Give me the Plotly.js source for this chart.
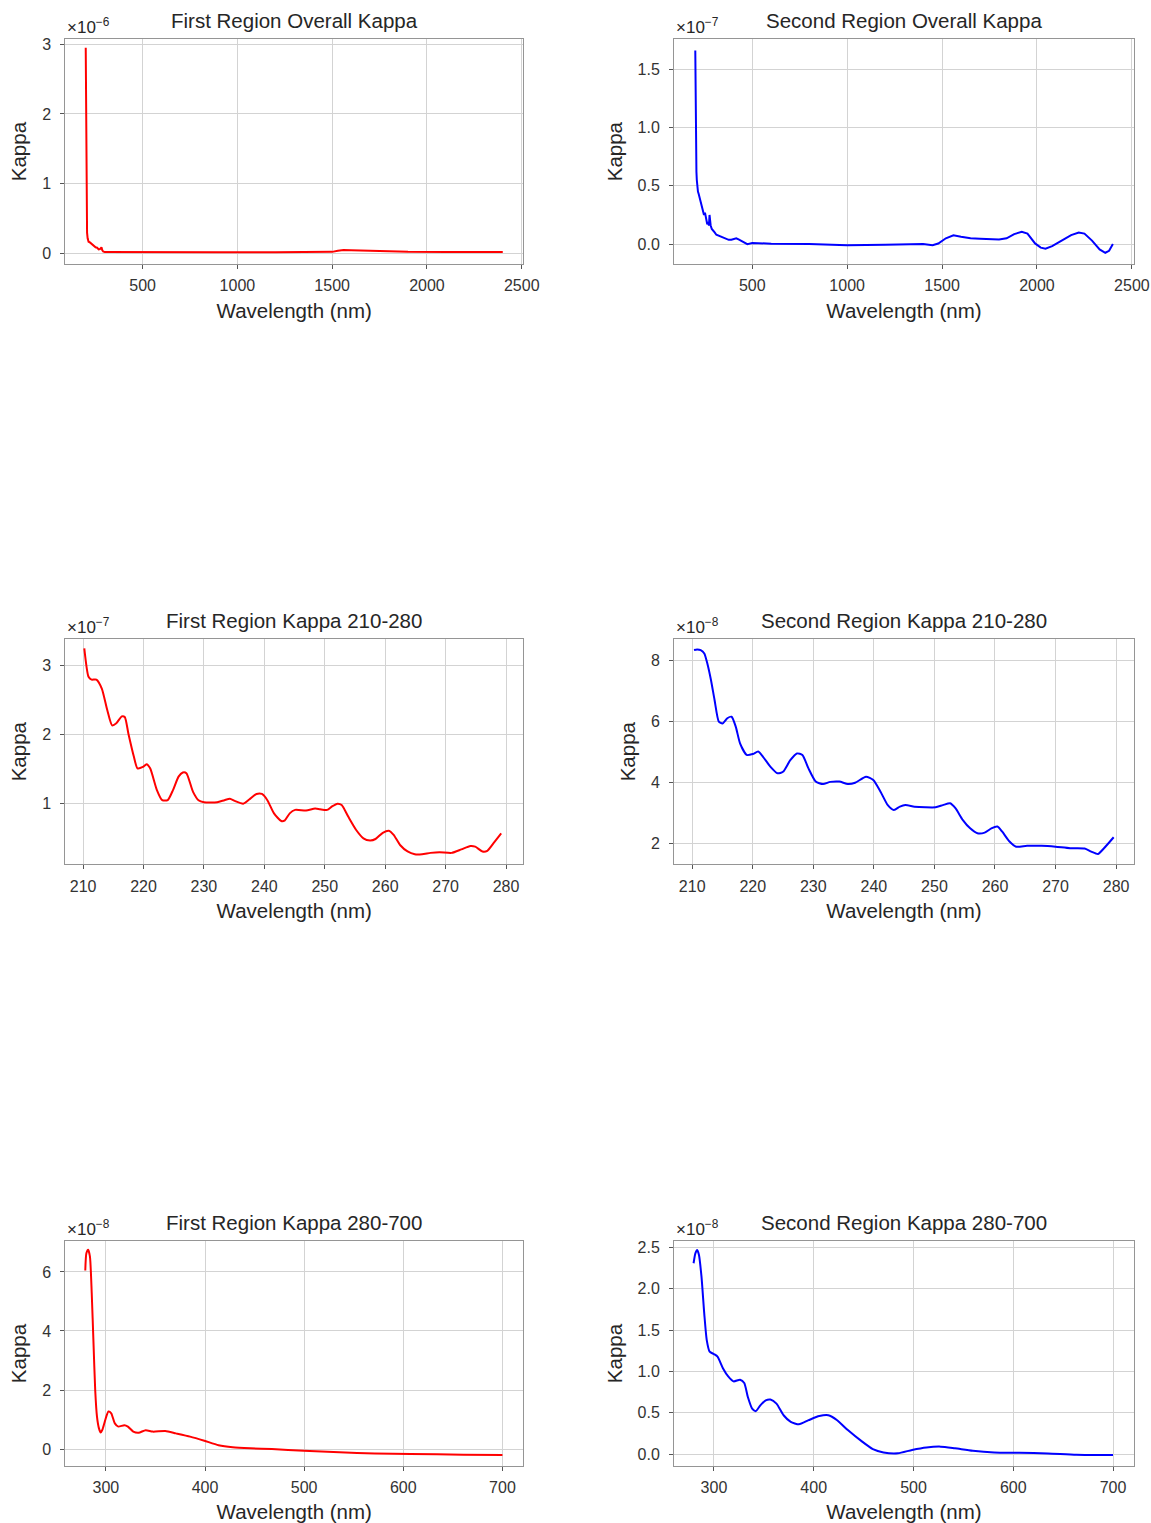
<!DOCTYPE html>
<html>
<head>
<meta charset="utf-8">
<script src="https://cdn.plot.ly/plotly-3.0.1.min.js"></script>
<style>
  html, body { margin: 0; padding: 0; background: #ffffff; }
  #chart { width: 1151px; height: 1523px; }
</style>
</head>
<body>
<div id="chart"></div>
<script>
// ---- Overall spectra, 200–2400 nm ----
// First region, kappa in units of 1e-6
const wlOverall1 = [200, 202, 204, 205.5, 207, 210, 215, 222, 230, 238, 245, 252, 260, 268, 275, 280, 283, 287, 292, 300, 400, 600, 900, 1200, 1450, 1500, 1530, 1560, 1600, 1700, 1800, 1900, 2100, 2400];
const kOverall1 = [2.95, 2.0, 1.2, 0.6, 0.3, 0.22, 0.17, 0.16, 0.14, 0.12, 0.11, 0.09, 0.085, 0.06, 0.065, 0.09, 0.09, 0.05, 0.03, 0.022, 0.02, 0.02, 0.02, 0.02, 0.02, 0.025, 0.04, 0.05, 0.048, 0.04, 0.032, 0.025, 0.022, 0.022];

// Second region, kappa in units of 1e-7
const wlOverall2 = [200, 201, 202.5, 204, 206, 208, 211, 214, 218, 223, 229, 236, 241, 246, 251, 255, 259, 263, 268, 272, 275, 277, 281, 287, 293, 302, 311, 325, 337, 350, 363, 376, 390, 403, 416, 428, 442, 458, 474, 500, 600, 800, 1000, 1200, 1400, 1450, 1480, 1520, 1560, 1600, 1650, 1700, 1800, 1840, 1880, 1920, 1950, 1990, 2020, 2045, 2080, 2130, 2180, 2220, 2250, 2290, 2330, 2360, 2380, 2400];
const kOverall2 = [1.66, 1.3, 0.85, 0.7, 0.62, 0.55, 0.49, 0.45, 0.43, 0.40, 0.37, 0.32, 0.30, 0.25, 0.27, 0.23, 0.21, 0.17, 0.19, 0.16, 0.25, 0.17, 0.16, 0.13, 0.12, 0.10, 0.08, 0.07, 0.06, 0.05, 0.045, 0.037, 0.037, 0.045, 0.05, 0.04, 0.026, 0.01, 0.0, 0.01, 0.003, 0.0, -0.01, -0.005, 0.0, -0.01, 0.005, 0.05, 0.075, 0.063, 0.05, 0.046, 0.04, 0.05, 0.086, 0.106, 0.09, 0.006, -0.03, -0.04, -0.017, 0.03, 0.077, 0.1, 0.09, 0.03, -0.046, -0.074, -0.057, 0.0];

// ---- 210–280 nm ----
// First region, kappa in units of 1e-7
const wlUv1 = [210.2, 210.9, 211.4, 212.2, 213.1, 214.0, 214.8, 215.5, 216.4, 216.9, 217.5, 218.4, 219.0, 219.9, 220.5, 221.1, 222.2, 223.1, 224.0, 224.9, 225.8, 226.5, 227.1, 228.2, 229.1, 230.0, 232.2, 233.4, 234.3, 235.1, 236.5, 237.5, 238.7, 239.6, 240.5, 241.6, 242.8, 243.4, 244.2, 245.1, 246.9, 248.4, 249.2, 250.4, 251.2, 252.1, 252.8, 253.9, 255.2, 256.4, 257.5, 258.4, 259.6, 260.6, 261.4, 262.5, 263.7, 264.9, 266.1, 267.5, 269.0, 271.0, 272.6, 274.1, 274.9, 276.1, 276.9, 278.1, 279.2];
const kUv1 = [3.24, 2.83, 2.79, 2.79, 2.66, 2.35, 2.13, 2.16, 2.26, 2.25, 2.01, 1.68, 1.51, 1.53, 1.57, 1.51, 1.20, 1.05, 1.05, 1.20, 1.39, 1.45, 1.44, 1.17, 1.05, 1.02, 1.02, 1.05, 1.07, 1.04, 1.00, 1.06, 1.14, 1.14, 1.05, 0.86, 0.75, 0.76, 0.86, 0.91, 0.90, 0.93, 0.92, 0.91, 0.96, 1.00, 0.98, 0.81, 0.62, 0.50, 0.47, 0.49, 0.58, 0.61, 0.55, 0.40, 0.31, 0.27, 0.27, 0.29, 0.30, 0.29, 0.34, 0.39, 0.38, 0.31, 0.32, 0.45, 0.57];

// Second region, kappa in units of 1e-8
const wlUv2 = [210.3, 210.8, 211.4, 212.0, 212.5, 213.1, 213.7, 214.4, 215.0, 215.8, 216.5, 217.2, 217.9, 219.0, 220.0, 220.9, 221.7, 222.9, 224.1, 225.0, 226.2, 227.3, 228.2, 229.2, 230.4, 231.6, 232.8, 234.3, 235.7, 236.9, 238.7, 239.9, 241.1, 242.3, 243.3, 244.3, 245.2, 246.7, 248.5, 250.2, 251.4, 252.6, 253.5, 254.7, 255.9, 257.1, 258.3, 259.4, 260.4, 261.2, 262.4, 263.5, 265.3, 267.7, 270.0, 272.4, 274.8, 275.9, 277.0, 278.0, 279.6];
const kUv2 = [8.33, 8.35, 8.33, 8.22, 7.89, 7.35, 6.69, 5.99, 5.93, 6.10, 6.15, 5.82, 5.28, 4.90, 4.93, 5.01, 4.84, 4.52, 4.30, 4.35, 4.73, 4.95, 4.90, 4.46, 4.03, 3.95, 4.02, 4.03, 3.95, 3.99, 4.19, 4.08, 3.70, 3.26, 3.10, 3.21, 3.26, 3.21, 3.19, 3.19, 3.26, 3.32, 3.15, 2.77, 2.50, 2.34, 2.36, 2.50, 2.56, 2.39, 2.07, 1.90, 1.93, 1.93, 1.90, 1.85, 1.84, 1.74, 1.66, 1.85, 2.21];

// ---- 280–700 nm ----
// First region, kappa in units of 1e-8
const wlVis1 = [279.2, 280.3, 282.1, 283.9, 285.7, 287.5, 289.2, 291.0, 293.0, 294.7, 296.5, 298.9, 302.5, 305.4, 309.0, 312.5, 318.6, 322.2, 327.6, 333.0, 340.1, 347.3, 359.9, 370.6, 384.9, 399.3, 413.6, 427.9, 445.8, 467.4, 499.6, 535.5, 571.3, 607.2, 660.6, 700.0];
const kVis1 = [6.05, 6.63, 6.75, 6.52, 5.28, 3.58, 2.00, 1.10, 0.70, 0.56, 0.66, 0.93, 1.27, 1.21, 0.87, 0.76, 0.81, 0.76, 0.59, 0.55, 0.64, 0.59, 0.61, 0.53, 0.42, 0.28, 0.13, 0.06, 0.025, 0.00, -0.06, -0.11, -0.15, -0.17, -0.19, -0.20];

// Second region, kappa in units of 1e-8
const wlVis2 = [279.6, 281.4, 283.2, 285.0, 287.5, 290.3, 292.8, 295.7, 300.0, 303.6, 309.0, 314.3, 319.7, 326.2, 330.4, 334.0, 338.3, 341.9, 346.5, 351.9, 356.6, 362.7, 369.8, 377.0, 385.2, 394.9, 405.6, 414.6, 423.5, 434.2, 448.6, 459.3, 470.0, 484.4, 498.6, 513.0, 527.3, 541.6, 559.5, 580.9, 606.0, 634.7, 663.3, 700.0];
const kVis2 = [2.31, 2.43, 2.47, 2.41, 2.15, 1.70, 1.38, 1.24, 1.21, 1.18, 1.04, 0.94, 0.88, 0.90, 0.86, 0.69, 0.55, 0.52, 0.59, 0.65, 0.66, 0.61, 0.47, 0.39, 0.36, 0.41, 0.46, 0.47, 0.41, 0.29, 0.15, 0.06, 0.02, 0.01, 0.05, 0.08, 0.09, 0.07, 0.04, 0.02, 0.016, 0.008, -0.008, -0.012];

const titles = [
  'First Region Overall Kappa', 'Second Region Overall Kappa',
  'First Region Kappa 210-280', 'Second Region Kappa 210-280',
  'First Region Kappa 280-700', 'Second Region Kappa 280-700'
];
const exponents = ['−6', '−7', '−7', '−8', '−8', '−8'];
const xLabel = 'Wavelength (nm)';
const yLabel = 'Kappa';

const RED = '#ff0000';
const BLUE = '#0000ff';

// Grid geometry (paper fractions) and per-panel axis settings
const colDomains = [[0.0567, 0.4546], [0.5856, 0.9852]];
const rowDomains = [[0.8267, 0.9742], [0.4325, 0.5804], [0.0374, 0.1852]];

const panels = [
  { x: wlOverall1, y: kOverall1, color: RED,  col: 0, row: 0, xr: [92, 2508],   yr: [-0.148, 3.07], xd: 500, yd: 1,   yf: 'd',   shape: 'linear' },
  { x: wlOverall2, y: kOverall2, color: BLUE, col: 1, row: 0, xr: [88, 2511],   yr: [-0.170, 1.757], xd: 500, yd: 0.5, yf: '.1f', shape: 'linear' },
  { x: wlUv1,      y: kUv1,      color: RED,  col: 0, row: 1, xr: [207.05, 282.85], yr: [0.125, 3.375], xd: 10, yd: 1, yf: 'd', shape: 'spline' },
  { x: wlUv2,      y: kUv2,      color: BLUE, col: 1, row: 1, xr: [207.0, 282.95],  yr: [1.325, 8.69],  xd: 10, yd: 2, yf: 'd', shape: 'spline' },
  { x: wlVis1,     y: kVis1,     color: RED,  col: 0, row: 2, xr: [259, 721],   yr: [-0.576, 7.05], xd: 100, yd: 2,   yf: 'd',   shape: 'spline' },
  { x: wlVis2,     y: kVis2,     color: BLUE, col: 1, row: 2, xr: [260, 721],   yr: [-0.145, 2.58], xd: 100, yd: 0.5, yf: '.1f', shape: 'spline' }
];

const FONT = 'Liberation Sans, Arial, Helvetica, sans-serif';
const TEXT = '#262626';

const data = [];
const layout = {
  width: 1151,
  height: 1523,
  margin: { l: 0, r: 0, t: 0, b: 0 },
  paper_bgcolor: '#ffffff',
  plot_bgcolor: '#ffffff',
  showlegend: false,
  font: { family: FONT, color: TEXT },
  annotations: []
};

panels.forEach((p, i) => {
  const n = i + 1;
  const xa = n === 1 ? 'x' : 'x' + n;
  const ya = n === 1 ? 'y' : 'y' + n;
  const xKey = n === 1 ? 'xaxis' : 'xaxis' + n;
  const yKey = n === 1 ? 'yaxis' : 'yaxis' + n;

  data.push({
    type: 'scatter',
    mode: 'lines',
    x: p.x,
    y: p.y,
    xaxis: xa,
    yaxis: ya,
    line: { color: p.color, width: 2, shape: p.shape, smoothing: 0.6 },
    hoverinfo: 'skip'
  });

  const axisCommon = {
    showline: true,
    mirror: true,
    linecolor: '#959595',
    linewidth: 1,
    showgrid: true,
    gridcolor: '#d3d3d3',
    gridwidth: 1,
    zeroline: false,
    ticks: 'outside',
    ticklen: 4,
    tickwidth: 1,
    tickcolor: '#555555',
    tickfont: { family: FONT, size: 16, color: '#333333' },
    automargin: false,
    fixedrange: true
  };

  layout[xKey] = Object.assign({}, axisCommon, {
    domain: colDomains[p.col],
    anchor: ya,
    range: p.xr,
    tick0: 0,
    dtick: p.xd,
    tickformat: 'd',
    ticklabelstandoff: 3,
    title: { text: xLabel, standoff: 10, font: { family: FONT, size: 20.5, color: TEXT } }
  });
  layout[yKey] = Object.assign({}, axisCommon, {
    domain: rowDomains[p.row],
    anchor: xa,
    range: p.yr,
    tick0: 0,
    dtick: p.yd,
    tickformat: p.yf,
    ticklabelstandoff: 6,
    title: { text: yLabel, standoff: 9, font: { family: FONT, size: 20.5, color: TEXT } }
  });

  const xdom = xa + ' domain';
  const ydom = ya + ' domain';

  // Panel title
  layout.annotations.push({
    text: titles[i], xref: xdom, yref: ydom, x: 0.5, y: 1,
    xanchor: 'center', yanchor: 'bottom', yshift: 5, showarrow: false,
    font: { family: FONT, size: 20.5, color: TEXT }
  });
  // Scale factor shown above the y axis
  layout.annotations.push({
    text: '×10<sup>' + exponents[i] + '</sup>', xref: xdom, yref: ydom, x: 0, y: 1,
    xanchor: 'left', yanchor: 'bottom', xshift: 0, yshift: 0, showarrow: false,
    font: { family: FONT, size: 17, color: TEXT }
  });
});

Plotly.newPlot('chart', data, layout, { staticPlot: true, displayModeBar: false });
</script>
</body>
</html>
